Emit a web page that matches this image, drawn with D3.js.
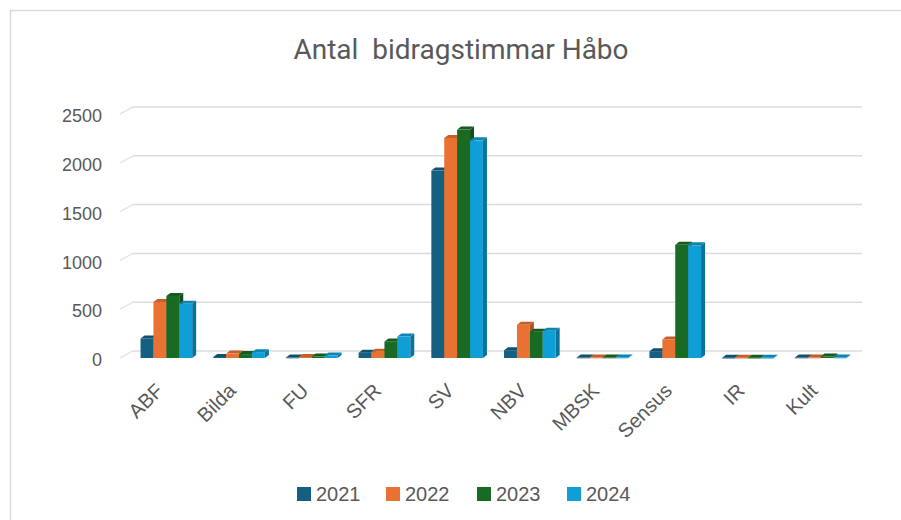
<!DOCTYPE html>
<html>
<head>
<meta charset="utf-8">
<script src="https://cdn.jsdelivr.net/npm/d3@7"></script>
<style>
  body { margin: 0; background: #fff; }
  svg { display: block; }
</style>
</head>
<body>
<div id="chart"></div>
<script>
var svgWidth = 901;
var svgHeight = 520;

// data
var categories = ["ABF", "Bilda", "FU", "SFR", "SV", "NBV", "MBSK", "Sensus", "IR", "Kult"];
var years = ["2021", "2022", "2023", "2024"];
var values2021 = [200, 10, 5, 55, 1920, 80, 5, 70, 3, 5];
var values2022 = [575, 45, 10, 65, 2255, 340, 5, 190, 3, 5];
var values2023 = [635, 40, 15, 170, 2340, 270, 5, 1160, 3, 15];
var values2024 = [555, 60, 25, 220, 2230, 280, 5, 1155, 3, 5];
var yTicks = [0, 500, 1000, 1500, 2000, 2500];
var colors = ["#156082", "#E97132", "#196B24", "#0F9ED5"];

var seriesValues = [values2021, values2022, values2023, values2024];

var svg = d3.select("#chart").append("svg")
    .attr("width", svgWidth)
    .attr("height", svgHeight);

// outer frame (only top and left edges visible)
svg.append("line")
    .attr("x1", 10).attr("x2", svgWidth).attr("y1", 10.5).attr("y2", 10.5)
    .attr("stroke", "#d9d9d9").attr("stroke-width", 1.5);
svg.append("line")
    .attr("x1", 10.5).attr("x2", 10.5).attr("y1", 10).attr("y2", svgHeight)
    .attr("stroke", "#d9d9d9").attr("stroke-width", 1.5);

// title
svg.append("text")
    .attr("x", 461)
    .attr("y", 59)
    .attr("text-anchor", "middle")
    .style("white-space", "pre")
    .attr("font-family", "Roboto, 'Liberation Sans', sans-serif")
    .attr("font-size", 28)
    .attr("fill", "#595959")
    .text("Antal  bidragstimmar Håbo");

// scales
var xScale = d3.scaleBand()
    .domain(categories)
    .range([130, 857])
    .paddingInner(0.29)
    .paddingOuter(0.145);

var xInner = d3.scaleBand()
    .domain(years)
    .range([0, xScale.bandwidth()]);

var yScale = d3.scaleLinear()
    .domain([0, 2500])
    .range([358, 114]);

// 3D offsets
var wallDx = 13, wallDy = -7;
var barDx = 4, barDy = -3;

// gridlines on the back wall, with a slanted side-wall piece
var grid = svg.append("g").attr("class", "grid");
yTicks.forEach(function(t) {
    var y = yScale(t);
    grid.append("line")
        .attr("x1", 120).attr("y1", y)
        .attr("x2", 120 + wallDx).attr("y2", y + wallDy)
        .attr("stroke", "#e6e6e6").attr("stroke-width", 1.5);
    grid.append("line")
        .attr("x1", 120 + wallDx).attr("y1", y + wallDy)
        .attr("x2", 862).attr("y2", y + wallDy)
        .attr("stroke", "#dcdcdc").attr("stroke-width", 1.5);
});

// y axis labels
var yAxis = d3.axisLeft(yScale).tickValues(yTicks).tickFormat(d3.format("d"))
    .tickSize(0).tickPadding(0);
var yAxisG = svg.append("g")
    .attr("transform", "translate(102,2)")
    .call(yAxis);
yAxisG.select(".domain").remove();
yAxisG.selectAll("text")
    .attr("font-family", "'Liberation Sans', Arial, sans-serif")
    .attr("font-size", 18)
    .attr("fill", "#595959");

// bars, drawn left to right so each front face covers the previous side face
var bars = svg.append("g").attr("class", "bars");
categories.forEach(function(cat, i) {
    years.forEach(function(yr, s) {
        var v = seriesValues[s][i];
        var x = xScale(cat) + xInner(yr);
        var w = xInner.bandwidth();
        var yTop = yScale(v);
        var yBase = yScale(0);
        var c = d3.color(colors[s]);
        var g = bars.append("g");
        // right side
        g.append("path")
            .attr("d", "M" + (x + w) + "," + yBase +
                " L" + (x + w + barDx) + "," + (yBase + barDy) +
                " L" + (x + w + barDx) + "," + (yTop + barDy) +
                " L" + (x + w) + "," + yTop + " Z")
            .attr("fill", c.darker(0.9));
        // top
        g.append("path")
            .attr("d", "M" + x + "," + yTop +
                " L" + (x + barDx) + "," + (yTop + barDy) +
                " L" + (x + w + barDx) + "," + (yTop + barDy) +
                " L" + (x + w) + "," + yTop + " Z")
            .attr("fill", c.darker(0.5));
        // front
        g.append("rect")
            .attr("x", x)
            .attr("y", yTop)
            .attr("width", w)
            .attr("height", Math.max(0.8, yBase - yTop))
            .attr("fill", c);
    });
});

// category labels, rotated
var xAxis = d3.axisBottom(xScale).tickSize(0).tickPadding(0);
var xAxisG = svg.append("g")
    .attr("transform", "translate(0,0)")
    .call(xAxis);
xAxisG.select(".domain").remove();
xAxisG.selectAll(".tick").attr("transform", null);
xAxisG.selectAll("text")
    .attr("font-family", "'Liberation Sans', Arial, sans-serif")
    .attr("font-size", 20)
    .attr("fill", "#595959")
    .attr("text-anchor", "end")
    .attr("x", 0).attr("y", 0).attr("dy", 0)
    .attr("transform", function(d) {
        return "translate(" + (xScale(d) + xScale.bandwidth() / 2 - 2) + ",392) rotate(-45)";
    });

// legend
var legend = svg.append("g").attr("class", "legend");
var legendX = [297, 386, 477, 567];
years.forEach(function(yr, s) {
    legend.append("rect")
        .attr("x", legendX[s]).attr("y", 487)
        .attr("width", 14).attr("height", 14)
        .attr("fill", colors[s]);
    legend.append("text")
        .attr("x", legendX[s] + 19)
        .attr("y", 501)
        .attr("font-family", "'Liberation Sans', Arial, sans-serif")
        .attr("font-size", 20)
        .attr("fill", "#595959")
        .text(yr);
});
</script>
</body>
</html>
